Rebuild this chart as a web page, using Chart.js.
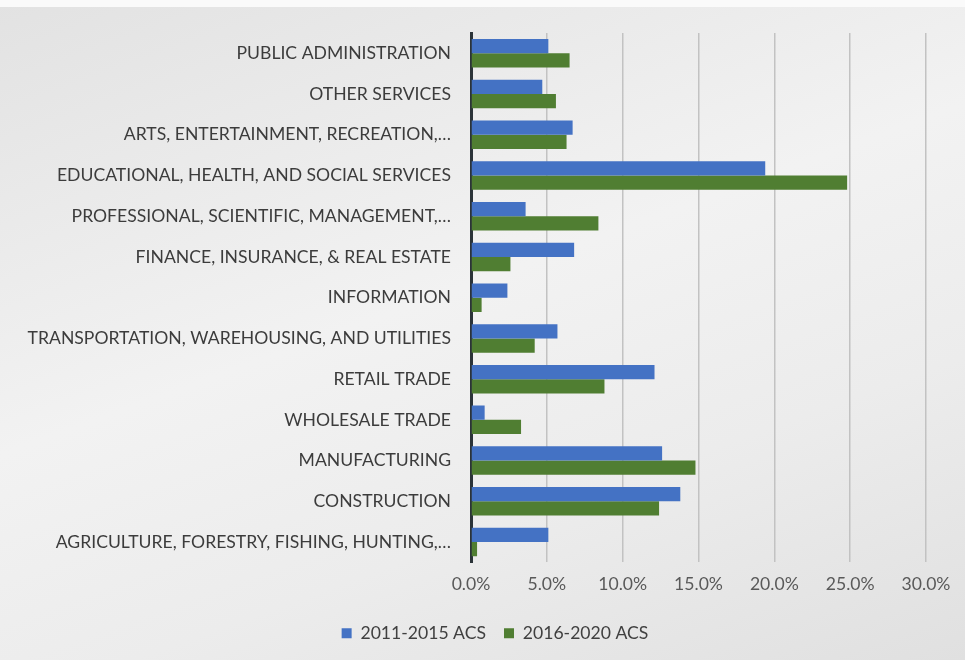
<!DOCTYPE html>
<html>
<head>
<meta charset="utf-8">
<script src="https://cdn.jsdelivr.net/npm/chart.js@4"></script>
<style>
  html, body { margin: 0; padding: 0; }
  body {
    width: 965px; height: 660px; overflow: hidden;
    background: linear-gradient(160deg, #e2e2e2 0%, #f2f2f2 45%, #ececec 70%, #e0e0e0 100%);
  }
  #wrap { position: relative; width: 965px; height: 660px; border-top: 7px solid #fafafa; box-sizing: border-box; }
  #myChart { position: absolute; top: -7px; left: 0; }
</style>
</head>
<body>
<div id="wrap"><canvas id="myChart" width="965" height="660"></canvas></div>
<script>
const categories = [
  'PUBLIC ADMINISTRATION',
  'OTHER SERVICES',
  'ARTS, ENTERTAINMENT, RECREATION,…',
  'EDUCATIONAL, HEALTH, AND SOCIAL SERVICES',
  'PROFESSIONAL, SCIENTIFIC, MANAGEMENT,…',
  'FINANCE, INSURANCE, & REAL ESTATE',
  'INFORMATION',
  'TRANSPORTATION, WAREHOUSING, AND UTILITIES',
  'RETAIL TRADE',
  'WHOLESALE TRADE',
  'MANUFACTURING',
  'CONSTRUCTION',
  'AGRICULTURE, FORESTRY, FISHING, HUNTING,…'
]
const acs2015 = [5.1, 4.7, 6.7, 19.4, 3.6, 6.8, 2.4, 5.7, 12.1, 0.9, 12.6, 13.8, 5.1]
const acs2020 = [6.5, 5.6, 6.3, 24.8, 8.4, 2.6, 0.7, 4.2, 8.8, 3.3, 14.8, 12.4, 0.4]
const seriesNames = ['2011-2015 ACS', '2016-2020 ACS']
const xTicks = [0, 5, 10, 15, 20, 25, 30]

const ctx = document.getElementById('myChart')
const font = { family: 'Lato', size: 17.6 }

// legend sits a bit right of the canvas centre in the original
const shiftLegend = {
  id: 'shiftLegend',
  afterLayout (chart) {
    chart.legend.left += 27
    chart.legend.right += 27
  }
}

new Chart(ctx, {
  type: 'bar',
  data: {
    labels: categories,
    datasets: [{
      label: seriesNames[0],
      data: acs2015,
      backgroundColor: '#4472C4'
    }, {
      label: seriesNames[1],
      data: acs2020,
      backgroundColor: '#507E32'
    }]
  },
  options: {
    indexAxis: 'y',
    responsive: false,
    animation: false,
    layout: {
      padding: { left: 10, right: 39, top: 33, bottom: 8 }
    },
    datasets: {
      bar: { categoryPercentage: 0.7, barPercentage: 1.0 }
    },
    scales: {
      x: {
        min: xTicks[0],
        max: xTicks[xTicks.length - 1],
        afterBuildTicks: (scale) => {
          scale.ticks = xTicks.map(v => ({ value: v }))
        },
        ticks: {
          callback: (v) => Number(v).toFixed(1) + '%',
          color: '#595959',
          font,
          padding: 11
        },
        grid: { color: '#c2c2c2', lineWidth: 1.5, drawTicks: false },
        border: { display: false },
        afterFit: (scale) => { scale.height = 44 }
      },
      y: {
        ticks: {
          color: '#3c3c3c',
          font,
          padding: 20,
          autoSkip: false
        },
        grid: { display: false, drawTicks: false },
        border: { display: true, color: '#2b3338', width: 3 },
        afterFit: (scale) => { scale.width = 461 }
      }
    },
    plugins: {
      legend: {
        position: 'bottom',
        labels: {
          boxWidth: 10,
          boxHeight: 10,
          padding: 18,
          color: '#404040',
          font
        }
      },
      tooltip: { enabled: false }
    }
  },
  plugins: [shiftLegend]
})
</script>
</body>
</html>
